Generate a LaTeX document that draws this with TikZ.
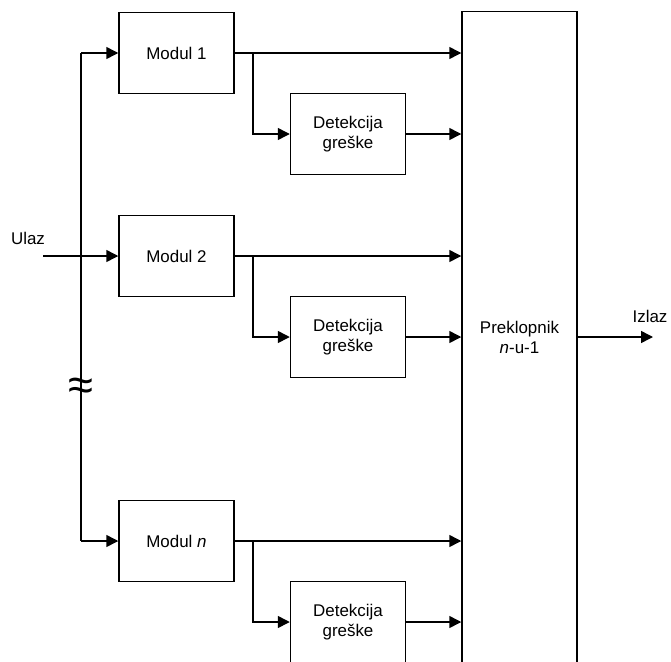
\documentclass[tikz,border=0pt]{standalone}
\usepackage{fontspec}
\setmainfont{Liberation Sans}
\usetikzlibrary{arrows.meta}
\begin{document}
\begin{tikzpicture}[x=0.75pt,y=-0.75pt,line width=1.1pt,
    every node/.style={font=\fontsize{12.7}{15}\selectfont},
    blok/.style={draw,line width=1.1pt,minimum width=86.25pt,minimum height=60.75pt,align=center,inner sep=0pt},
    arr/.style={-{Triangle[length=9pt,width=9pt]}}]
\useasboundingbox (0,0) rectangle (671,661);
% moduli
\node[blok] (m1) at (176.5,53) {Modul 1};
\node[blok] (m2) at (176.5,256) {Modul 2};
\node[blok] (mn) at (176.5,541) {Modul \textit{n}};
% detekcija greske
\node[blok] (d1) at (348,134) {Detekcija\\greške};
\node[blok] (d2) at (348,337) {Detekcija\\greške};
\node[blok] (dn) at (348,622) {Detekcija\\greške};
% preklopnik
\node[blok,minimum height=488.25pt] (p) at (519.5,337) {Preklopnik\\\textit{n}-u-1};
% ulaz
\coordinate (in) at (43,256);
\node (ulaz) at (28,238) {Ulaz};
\coordinate (bt) at (81,53); \coordinate (bb) at (81,541);
\draw (bt) -- (bb);
\draw[arr] (bt) -- (m1.west);
\draw[arr] (in) -- (m2.west);
\draw[arr] (bb) -- (mn.west);
\node[font=\fontsize{34}{34}\selectfont,inner sep=0pt] (pr) at (81,389) {\char"2248};
% grananje
\coordinate (b1) at (253,53); \coordinate (b2) at (253,256); \coordinate (bn) at (253,541);
\draw (m1.east) -- (b1); \draw[arr] (b1) -- (b1 -| p.west); \draw[arr] (b1) |- (d1.west);
\draw (m2.east) -- (b2); \draw[arr] (b2) -- (b2 -| p.west); \draw[arr] (b2) |- (d2.west);
\draw (mn.east) -- (bn); \draw[arr] (bn) -- (bn -| p.west); \draw[arr] (bn) |- (dn.west);
\draw[arr] (d1.east) -- (d1.east -| p.west);
\draw[arr] (d2.east) -- (d2.east -| p.west);
\draw[arr] (dn.east) -- (dn.east -| p.west);
% izlaz
\coordinate (out) at (653,337);
\draw[arr] (p.east) -- (out);
\node (izlaz) at (650,316) {Izlaz};
\end{tikzpicture}
\end{document}
